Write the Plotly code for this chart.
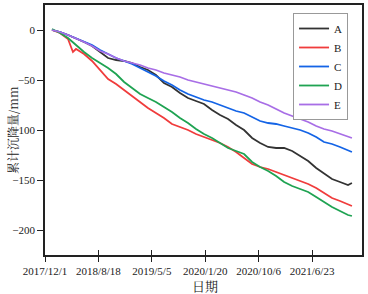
import plotly.graph_objects as go

dates = ["2018-01-04", "2018-02-12", "2018-03-23", "2018-04-16", "2018-05-01", "2018-06-09",
         "2018-07-18", "2018-08-26", "2018-10-04", "2018-11-12", "2018-12-21", "2019-01-29",
         "2019-03-09", "2019-04-16", "2019-05-25", "2019-07-03", "2019-08-11", "2019-09-19",
         "2019-10-28", "2019-12-06", "2020-01-14", "2020-02-22", "2020-04-01", "2020-05-10",
         "2020-06-18", "2020-07-27", "2020-09-04", "2020-10-13", "2020-11-21", "2020-12-30",
         "2021-02-07", "2021-03-18", "2021-04-26", "2021-06-04", "2021-07-13", "2021-08-20",
         "2021-09-28", "2021-11-06", "2021-12-15", "2022-01-03"]

A = [0, -2, -5, -7, -8, -12, -16, -22, -28, -30, -31, -33, -37, -40, -45, -53, -57, -63, -68,
     -71, -74, -80, -85, -89, -95, -100, -108, -113, -117, -118, -118, -121, -126, -131, -138,
     -143, -149, -152, -155, -153]
B = [0, -3, -9, -22, -19, -24, -31, -40, -49, -54, -60, -66, -72, -78, -83, -88, -94, -97,
     -100, -104, -107, -110, -113, -117, -122, -128, -134, -137, -139, -142, -145, -148, -151,
     -154, -158, -163, -168, -171, -174, -176]
C = [0, -2, -5, -7, -8, -11, -15, -20, -24, -28, -31, -34, -38, -42, -46, -51, -55, -60, -64,
     -67, -70, -72, -75, -78, -81, -83, -87, -91, -93, -94, -96, -98, -100, -103, -107, -112,
     -114, -117, -120, -122]
D = [1, -3, -8, -12, -15, -22, -28, -33, -38, -44, -52, -58, -64, -68, -72, -77, -82, -88, -93,
     -99, -104, -108, -113, -118, -121, -124, -132, -137, -141, -146, -152, -156, -159, -162,
     -167, -172, -177, -181, -185, -186]
E = [0, -2, -5, -7, -8, -12, -16, -21, -24, -28, -31, -33, -35, -38, -40, -43, -45, -47, -50,
     -52, -54, -56, -58, -60, -62, -65, -68, -72, -75, -79, -83, -86, -89, -92, -96, -99, -101,
     -104, -107, -108]

series_names = ["A", "B", "C", "D", "E"]
series_vals = [A, B, C, D, E]
colors = ["#333333", "#f03c3c", "#1464e6", "#1fa352", "#a86ee6"]

tick_vals = ["2017-12-01", "2018-08-18", "2019-05-05", "2020-01-20", "2020-10-06", "2021-06-23"]
tick_text = ["2017/12/1", "2018/8/18", "2019/5/5", "2020/1/20", "2020/10/6", "2021/6/23"]
y_ticks = [0, -50, -100, -150, -200]

serif = "Liberation Serif, Times New Roman, Noto Sans CJK SC, serif"

fig = go.Figure()
for name, vals, col in zip(series_names, series_vals, colors):
    fig.add_trace(go.Scatter(x=dates, y=vals, mode="lines", name=name,
                             line=dict(color=col, width=1.8)))

fig.update_layout(
    width=368, height=294,
    margin=dict(l=45, r=6, t=5, b=39, autoexpand=False),
    paper_bgcolor="white", plot_bgcolor="white",
    font=dict(family=serif, size=11, color="#222"),
    showlegend=True,
    legend=dict(x=0.956, y=0.968, xanchor="right", yanchor="top",
                bgcolor="white", bordercolor="#999", borderwidth=1,
                font=dict(family=serif, size=11, color="#222"),
                itemwidth=30, tracegroupgap=0),
    xaxis=dict(type="date", range=["2017-12-01", "2022-02-21"],
               tickvals=tick_vals, ticktext=tick_text, automargin=False,
               ticks="outside", ticklen=5, tickwidth=1.2, tickcolor="#222",
               showline=True, linecolor="#222", linewidth=1.5, mirror=True,
               showgrid=False, zeroline=False,
               tickfont=dict(family=serif, size=11)),
    xaxis2=dict(type="date", overlaying="x", matches="x", anchor="y", side="bottom",
                tickvals=tick_vals, ticks="inside", ticklen=5, tickwidth=1.2, tickcolor="#222",
                showticklabels=False, showgrid=False, zeroline=False, showline=False,
                automargin=False),
    yaxis=dict(range=[-225, 25], tickvals=y_ticks, automargin=False,
               ticks="outside", ticklen=6, tickwidth=1.2, tickcolor="#222",
               showline=True, linecolor="#222", linewidth=1.5, mirror=True,
               showgrid=False, zeroline=False,
               tickfont=dict(family=serif, size=11)),
    annotations=[
        dict(text="日期", xref="paper", yref="paper", x=0.505, y=-0.12,
             xanchor="center", yanchor="middle", showarrow=False,
             font=dict(family="Noto Serif CJK SC, Noto Sans CJK SC", size=13, color="#222")),
        dict(text="累计沉降量/mm", xref="paper", yref="paper", x=-0.104, y=0.5,
             xanchor="center", yanchor="middle", textangle=-90, showarrow=False,
             font=dict(family="Noto Serif CJK SC, Noto Sans CJK SC", size=12, color="#222")),
    ],
)
# invisible trace to activate the overlay axis carrying inside ticks
fig.add_trace(go.Scatter(x=[dates[0]], y=[0], xaxis="x2", mode="markers",
                         marker=dict(opacity=0), showlegend=False, hoverinfo="skip"))

fig.write_html("out.html", config={"displayModeBar": False},
               post_script="document.body.style.margin='0';")
